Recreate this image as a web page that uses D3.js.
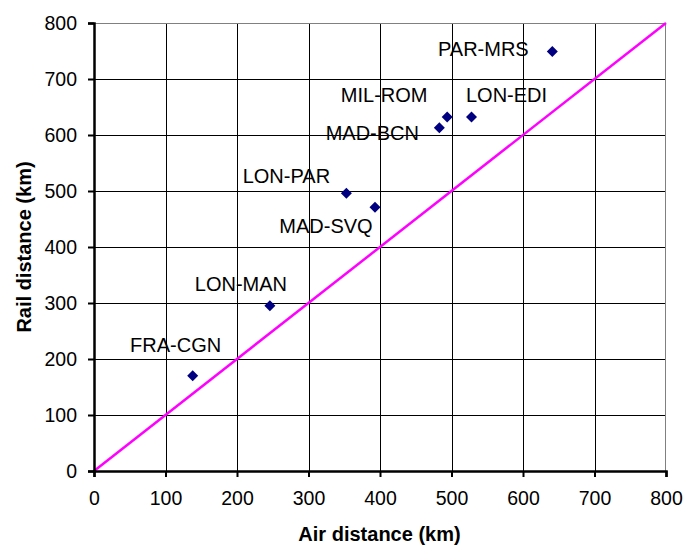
<!DOCTYPE html>
<html>
<head>
<meta charset="utf-8">
<script src="https://cdn.jsdelivr.net/npm/d3@7"></script>
<style>
  html, body { margin: 0; padding: 0; background: #fff; }
  svg { display: block; font-family: "Liberation Sans", Arial, sans-serif; }
</style>
</head>
<body>
<svg id="chart" width="684" height="545"></svg>
<script>
// ---- data ----
const routes = ["FRA-CGN", "LON-MAN", "LON-PAR", "MAD-SVQ", "MAD-BCN", "MIL-ROM", "LON-EDI", "PAR-MRS"];
const airKm  = [138, 246, 353, 393, 483, 494, 528, 641];
const railKm = [170, 295, 496, 471, 613, 632, 632, 749];
const xTicks = [0, 100, 200, 300, 400, 500, 600, 700, 800];
const yTicks = [0, 100, 200, 300, 400, 500, 600, 700, 800];
const refLine = [[0, 0], [800, 800]];
const xTitle = "Air distance (km)";
const yTitle = "Rail distance (km)";

// ---- layout ----
const svg = d3.select("#chart");
const L = 94, R = 666, T = 23, B = 471;
const x = d3.scaleLinear().domain([0, 800]).range([L, R]);
const y = d3.scaleLinear().domain([0, 800]).range([B, T]);

// label offsets in pixels (text-anchor middle, relative to point)
const labelOffsets = {
  "FRA-CGN": [-17, -24], "LON-MAN": [-29, -15], "LON-PAR": [-60, -10],
  "MAD-SVQ": [-49, 26], "MAD-BCN": [-67, 12], "MIL-ROM": [-63, -15],
  "LON-EDI": [35, -15], "PAR-MRS": [-69, 4]
};

// gridlines
const grid = svg.append("g");
grid.selectAll("line.v").data(xTicks.slice(1, -1)).join("line")
  .attr("x1", d => Math.round(x(d)) + 0.5).attr("x2", d => Math.round(x(d)) + 0.5)
  .attr("y1", T).attr("y2", B).attr("stroke", "#000").attr("stroke-width", 1);
grid.selectAll("line.h").data(yTicks.slice(1, -1)).join("line")
  .attr("y1", d => Math.round(y(d)) + 0.5).attr("y2", d => Math.round(y(d)) + 0.5)
  .attr("x1", L).attr("x2", R).attr("stroke", "#000").attr("stroke-width", 1);
// top & right border
grid.append("line").attr("x1", L).attr("x2", R).attr("y1", T + 0.5).attr("y2", T + 0.5)
  .attr("stroke", "#808080").attr("stroke-width", 1);
grid.append("line").attr("x1", R - 0.5).attr("x2", R - 0.5).attr("y1", T).attr("y2", B)
  .attr("stroke", "#808080").attr("stroke-width", 1);

// reference line
svg.append("line")
  .attr("x1", x(refLine[0][0])).attr("y1", y(refLine[0][1]))
  .attr("x2", x(refLine[1][0])).attr("y2", y(refLine[1][1]))
  .attr("stroke", "#FF00FF").attr("stroke-width", 2.5);

// axes
const xAxis = svg.append("g").attr("transform", `translate(0,${B})`)
  .call(d3.axisBottom(x).tickValues(xTicks).tickSize(6).tickPadding(8).tickFormat(d3.format("d")));
const yAxis = svg.append("g").attr("transform", `translate(${L},0)`)
  .call(d3.axisLeft(y).tickValues(yTicks).tickSize(6).tickPadding(11).tickFormat(d3.format("d")));
[xAxis, yAxis].forEach(g => {
  g.select(".domain").attr("stroke", "#000").attr("stroke-width", 2.5);
  g.selectAll(".tick line").attr("stroke", "#000").attr("stroke-width", 2);
  g.selectAll(".tick text").attr("fill", "#000").style("font-size", "19.5px")
    .style("font-family", '"Liberation Sans", Arial, sans-serif');
});
xAxis.selectAll(".tick text").attr("dy", "1.05em");

// axis titles
svg.append("text").attr("x", (L + R) / 2 - 0.5).attr("y", 541).attr("text-anchor", "middle")
  .style("font-size", "20px").style("font-weight", "bold").text(xTitle);
svg.append("text").attr("transform", `translate(31,${(T + B) / 2}) rotate(-90)`)
  .attr("text-anchor", "middle").style("font-size", "20px").style("font-weight", "bold").text(yTitle);

// points
const pts = routes.map((r, i) => ({ name: r, ax: airKm[i], rl: railKm[i] }));
const h = 5.5;
svg.append("g").selectAll("path").data(pts).join("path")
  .attr("transform", d => `translate(${x(d.ax)},${y(d.rl)})`)
  .attr("d", `M0,${-h}L${h},0L0,${h}L${-h},0Z`)
  .attr("fill", "#000080");

// labels
svg.append("g").selectAll("text").data(pts).join("text")
  .attr("x", d => x(d.ax) + labelOffsets[d.name][0])
  .attr("y", d => y(d.rl) + labelOffsets[d.name][1])
  .attr("text-anchor", "middle").style("font-size", "20px").attr("fill", "#000")
  .text(d => d.name);
</script>
</body>
</html>
